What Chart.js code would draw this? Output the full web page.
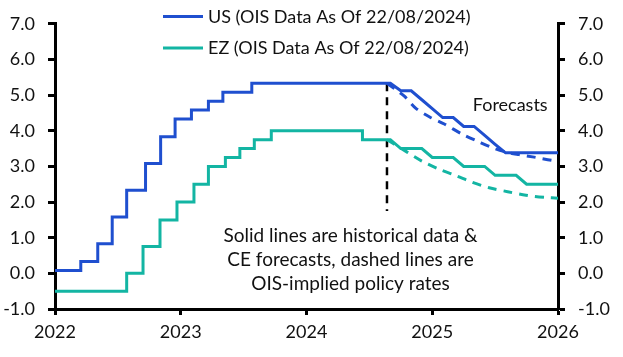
<!DOCTYPE html>
<html>
<head>
<meta charset="utf-8">
<script src="https://cdn.jsdelivr.net/npm/chart.js@4/dist/chart.umd.min.js"></script>
<style>
html,body{margin:0;padding:0;background:#fff;}
#wrap{width:623px;height:357px;position:relative;}
</style>
</head>
<body>
<div id="wrap"><canvas id="c" width="623" height="357"></canvas></div>
<script>
// ---------- DATA ----------
const xTickYears = [2022, 2023, 2024, 2025, 2026];
const yTickValues = [-1, 0, 1, 2, 3, 4, 5, 6, 7];

const usLabel = 'US (OIS Data As Of 22/08/2024)';
const ezLabel = 'EZ (OIS Data As Of 22/08/2024)';

// Historical policy rates (step changes): decimal-year dates and new levels
const usStepDates = [2022.0, 2022.205, 2022.34, 2022.455, 2022.57, 2022.72, 2022.84, 2022.955, 2023.085, 2023.22, 2023.335, 2023.565];
const usStepRates = [0.08, 0.33, 0.83, 1.58, 2.33, 3.08, 3.83, 4.33, 4.58, 4.83, 5.08, 5.33];

const ezStepDates = [2022.0, 2022.57, 2022.70, 2022.835, 2022.97, 2023.105, 2023.22, 2023.355, 2023.47, 2023.585, 2023.72, 2024.445];
const ezStepRates = [-0.5, 0.0, 0.75, 1.5, 2.0, 2.5, 3.0, 3.25, 3.5, 3.75, 4.0, 3.75];

// CE forecasts (monthly, from OIS date onward)
const usFcDates = [2024.64, 2024.667, 2024.75, 2024.833, 2024.917, 2025.0, 2025.083, 2025.167, 2025.25, 2025.333, 2025.417, 2025.5, 2025.583, 2025.667, 2025.75, 2025.833, 2025.917, 2026.0];
const usFcRates = [5.33, 5.33, 5.12, 5.12, 4.87, 4.62, 4.37, 4.37, 4.12, 4.12, 3.87, 3.62, 3.38, 3.38, 3.38, 3.38, 3.38, 3.38];

const ezFcDates = [2024.64, 2024.667, 2024.75, 2024.833, 2024.917, 2025.0, 2025.083, 2025.167, 2025.25, 2025.333, 2025.417, 2025.5, 2025.583, 2025.667, 2025.75, 2025.833, 2025.917, 2026.0];
const ezFcRates = [3.75, 3.75, 3.5, 3.5, 3.5, 3.25, 3.25, 3.25, 3.0, 3.0, 3.0, 2.75, 2.75, 2.75, 2.5, 2.5, 2.5, 2.5];

// OIS-implied policy rates
const usOisDates = [2024.64, 2024.711, 2024.778, 2024.87, 2024.983, 2025.096, 2025.24, 2025.37, 2025.49, 2025.60, 2025.69, 2025.81, 2025.95, 2026.0];
const usOisRates = [5.33, 5.15, 4.97, 4.63, 4.38, 4.19, 3.90, 3.69, 3.51, 3.39, 3.33, 3.26, 3.17, 3.15];

const ezOisDates = [2024.64, 2024.70, 2024.80, 2024.917, 2025.055, 2025.19, 2025.315, 2025.453, 2025.60, 2025.745, 2025.90, 2026.0];
const ezOisRates = [3.75, 3.62, 3.40, 3.15, 2.92, 2.74, 2.56, 2.40, 2.29, 2.19, 2.13, 2.11];

// Vertical marker at OIS data date
const markerDate = 2024.64;
const markerTop = 5.33;
const markerBottom = 1.75;

const forecastsNote = 'Forecasts';
const forecastsNotePos = {x: 2025.62, y: 4.55};
const noteLines = ['Solid lines are historical data &', 'CE forecasts, dashed lines are', 'OIS-implied policy rates'];
const noteCenterX = 2024.35;
const noteBaselines = [0.88, 0.22, -0.48];

// ---------- STYLE ----------
const BLUE = '#1f4fcf';
const TEAL = '#13b5a3';
const FONT_FAMILY = 'Lato, "Open Sans", sans-serif';
const FONT_SIZE = 18;
const NOTE_FONT_SIZE = 19;

function stepSeries(dates, rates, fcDates, fcRates) {
  const pts = [];
  for (let i = 0; i < dates.length; i++) {
    if (i > 0) pts.push({x: dates[i], y: rates[i - 1]});
    pts.push({x: dates[i], y: rates[i]});
  }
  for (let i = 0; i < fcDates.length; i++) pts.push({x: fcDates[i], y: fcRates[i]});
  return pts;
}
function zipPts(xs, ys) { return xs.map((x, i) => ({x: x, y: ys[i]})); }

const overlayPlugin = {
  id: 'overlay',
  afterDatasetsDraw(chart) {
    const ctx = chart.ctx;
    const xs = chart.scales.x, ys = chart.scales.y;
    ctx.save();
    ctx.font = FONT_SIZE + 'px ' + FONT_FAMILY;
    ctx.fillStyle = '#111';
    ctx.textBaseline = 'alphabetic';
    // legend
    const items = chart.data.datasets.filter(d => d.inLegend);
    items.forEach((d, i) => {
      const yy = 16.5 + i * 31.5;
      ctx.strokeStyle = d.borderColor;
      ctx.lineWidth = 3;
      ctx.setLineDash([]);
      ctx.beginPath(); ctx.moveTo(163, yy); ctx.lineTo(203, yy); ctx.stroke();
      ctx.textAlign = 'left';
      ctx.fillText(d.label, 208, yy + 6.4);
    });
    // notes
    ctx.textAlign = 'center';
    ctx.fillText(forecastsNote, xs.getPixelForValue(forecastsNotePos.x), ys.getPixelForValue(forecastsNotePos.y));
    ctx.font = NOTE_FONT_SIZE + 'px ' + FONT_FAMILY;
    noteLines.forEach((t, i) => {
      ctx.fillText(t, xs.getPixelForValue(noteCenterX), ys.getPixelForValue(noteBaselines[i]));
    });
    ctx.restore();
  }
};

const tickFont = {family: FONT_FAMILY, size: FONT_SIZE};

const yAxisBase = (pos, w) => ({
  type: 'linear', position: pos, min: -1, max: 7,
  afterBuildTicks: s => { s.ticks = yTickValues.map(v => ({value: v})); },
  ticks: {callback: v => Number(v).toFixed(1), font: tickFont, color: '#111', padding: 13},
  grid: {display: true, drawOnChartArea: false, drawTicks: true, tickLength: 7, tickWidth: 3, color: '#000'},
  border: {display: true, color: '#000', width: 3},
  afterFit: s => { s.width = w; }
});

new Chart(document.getElementById('c'), {
  type: 'line',
  data: {
    datasets: [
      {label: usLabel, inLegend: true, data: stepSeries(usStepDates, usStepRates, usFcDates, usFcRates), borderColor: BLUE, borderWidth: 3, pointRadius: 0, tension: 0, order: 1},
      {label: ezLabel, inLegend: true, data: stepSeries(ezStepDates, ezStepRates, ezFcDates, ezFcRates), borderColor: TEAL, borderWidth: 3, pointRadius: 0, tension: 0, order: 2},
      {label: 'US OIS', data: zipPts(usOisDates, usOisRates), borderColor: BLUE, borderWidth: 3, borderDash: [9, 7], pointRadius: 0, tension: 0.3, order: 3},
      {label: 'EZ OIS', data: zipPts(ezOisDates, ezOisRates), borderColor: TEAL, borderWidth: 3, borderDash: [9, 7], pointRadius: 0, tension: 0.3, order: 4},
      {label: 'marker', data: [{x: markerDate, y: markerTop}, {x: markerDate, y: markerBottom}], borderColor: '#000', borderWidth: 2.5, borderDash: [8, 6], pointRadius: 0, order: 5}
    ]
  },
  options: {
    responsive: false,
    animation: false,
    devicePixelRatio: 1,
    layout: {padding: {top: 15, left: 0, right: 0, bottom: 0}},
    plugins: {legend: {display: false}, tooltip: {enabled: false}},
    scales: {
      x: {
        type: 'linear', min: 2022, max: 2026,
        afterBuildTicks: s => { s.ticks = xTickYears.map(v => ({value: v})); },
        ticks: {callback: v => String(v), font: tickFont, color: '#111', padding: 6, maxRotation: 0},
        grid: {display: true, drawOnChartArea: false, drawTicks: true, tickLength: 6, tickWidth: 3, color: '#000'},
        border: {display: true, color: '#000', width: 3},
        afterFit: s => { s.height = 48; }
      },
      y: yAxisBase('left', 55),
      y2: yAxisBase('right', 65)
    }
  },
  plugins: [overlayPlugin]
});
</script>
</body>
</html>
